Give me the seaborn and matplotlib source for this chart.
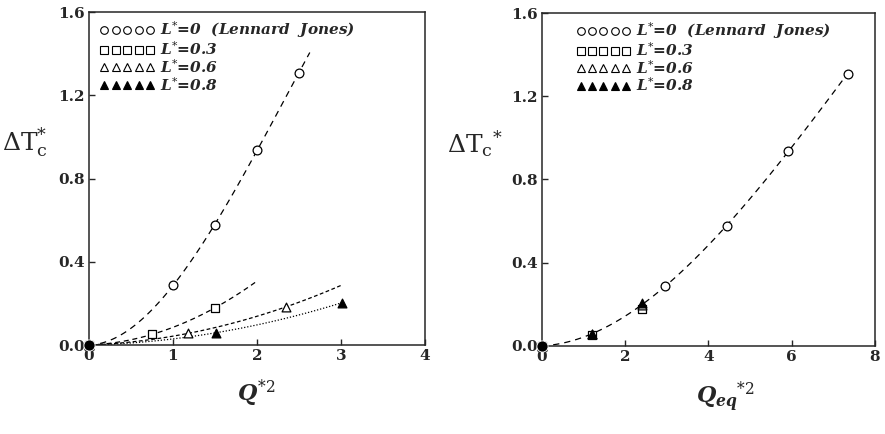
import numpy as np
import pandas as pd
import matplotlib
matplotlib.use("Agg")
import matplotlib.pyplot as plt
from matplotlib.lines import Line2D
import seaborn as sns

# ---- data ----
series_labels = ["L$^{*}$=0  (Lennard  Jones)", "L$^{*}$=0.3", "L$^{*}$=0.6", "L$^{*}$=0.8"]

q2_lj = [0.0, 1.0, 1.5, 2.0, 2.5]
dt_lj = [0.0, 0.288, 0.577, 0.937, 1.308]
q2_l3 = [0.0, 0.75, 1.5]
dt_l3 = [0.0, 0.051, 0.179]
q2_l6 = [0.0, 1.18, 2.35]
dt_l6 = [0.0, 0.056, 0.184]
q2_l8 = [0.0, 1.51, 3.01]
dt_l8 = [0.0, 0.059, 0.203]
fit_end_left = [2.63, 2.0, 3.0, 3.0]
fit_order = [3, 2, 2, 2]

qeq_lj = [0.0, 2.96, 4.44, 5.92, 7.34]
qeq_l3 = [0.0, 1.2, 2.4]
qeq_l6 = [0.0, 1.2, 2.4]
qeq_l8 = [0.0, 1.2, 2.4]
dt_l6_right = [0.0, 0.056, 0.195]
dt_l8_right = [0.0, 0.059, 0.205]
fit_end_right = 7.25

left_x_ticks = [0, 1, 2, 3, 4]
right_x_ticks = [0, 2, 4, 6, 8]
y_ticks = [0.0, 0.4, 0.8, 1.2, 1.6]

# ---- style ----
sns.set_style("ticks")
plt.rcParams["font.family"] = ["DejaVu Serif"]
plt.rcParams["mathtext.fontset"] = "custom"
plt.rcParams["mathtext.rm"] = "DejaVu Serif"
plt.rcParams["mathtext.it"] = "DejaVu Serif:italic:bold"
plt.rcParams["mathtext.bf"] = "DejaVu Serif:bold"

fig = plt.figure(figsize=(8.85, 4.34), dpi=100)
axL = fig.add_axes([0.1006, 0.205, 0.3794, 0.767])
axR = fig.add_axes([0.6124, 0.203, 0.3763, 0.767])

markers = ["o", "s", "^", "^"]
fills = ["white", "white", "white", "black"]
lstyles = [(0, (5, 4)), (0, (4, 3)), (0, (3, 2)), (0, (1, 1.5))]

left_sets = [(q2_lj, dt_lj), (q2_l3, dt_l3), (q2_l6, dt_l6), (q2_l8, dt_l8)]
right_sets = [(qeq_lj, dt_lj), (qeq_l3, dt_l3), (qeq_l6, dt_l6_right), (qeq_l8, dt_l8_right)]


def draw_points(ax, sets):
    for (x, y), m, fc in zip(sets, markers, fills):
        sns.scatterplot(x=x, y=y, marker=m, s=40, facecolor=fc, edgecolor="black",
                        linewidth=0.9, ax=ax, clip_on=False, zorder=3)
    sns.scatterplot(x=[0.0], y=[0.0], marker="o", s=65, color="black", ax=ax,
                    clip_on=False, zorder=4)


for (x, y), ls, xe, od in zip(left_sets, lstyles, fit_end_left, fit_order):
    c = np.polyfit(x, y, od)
    xx = np.linspace(0, xe, 120)
    df = pd.DataFrame({"x": xx, "y": np.polyval(c, xx)})
    sns.lineplot(data=df, x="x", y="y", ax=axL, color="black", lw=0.9,
                 linestyle=ls, estimator=None, sort=False)
draw_points(axL, left_sets)

c = np.polyfit(qeq_lj, dt_lj, 3)
xx = np.linspace(0, fit_end_right, 120)
sns.lineplot(x=xx, y=np.polyval(c, xx), ax=axR, color="black", lw=0.9,
             linestyle=lstyles[0], estimator=None, sort=False)
draw_points(axR, right_sets)

for ax, xt, xlim, lx in [(axL, left_x_ticks, (0, 4), 0.0), (axR, right_x_ticks, (0, 8), 0.07)]:
    ax.set_xlim(*xlim)
    ax.set_ylim(0, 1.6)
    ax.set_xticks(xt)
    ax.set_yticks(y_ticks)
    ax.set_xticklabels([str(t) for t in xt])
    ax.set_yticklabels([f"{t:.1f}" for t in y_ticks])
    ax.tick_params(direction="in", length=4, width=1, labelsize=11, pad=3)
    for lab in ax.get_xticklabels() + ax.get_yticklabels():
        lab.set_fontweight("bold")
    for sp in ax.spines.values():
        sp.set_linewidth(1.1)
        sp.set_visible(True)
    handles = [Line2D([], [], marker=m, linestyle="none", markerfacecolor=fc,
                      markeredgecolor="black", markersize=5.5, markeredgewidth=0.8)
               for m, fc in zip(markers, fills)]
    ax.legend(handles, series_labels, loc="upper left", numpoints=5,
              handlelength=3.6, handletextpad=0.35, labelspacing=-0.02,
              frameon=False, bbox_to_anchor=(lx, 1.01), borderaxespad=0.3,
              prop={"family": "DejaVu Serif", "weight": "bold",
                    "style": "italic", "size": 11})

axL.set_xlabel(r"$Q^{*\mathit{2}}$", fontsize=16, labelpad=10)
axR.set_xlabel(r"$Q_{eq}{}^{*\mathit{2}}$", fontsize=16, labelpad=8)
axL.set_ylabel(r"$\Delta\mathrm{T}^{*}_{\mathrm{c}}$", fontsize=18, rotation=0)
axR.set_ylabel(r"$\Delta\mathrm{T}_{\mathrm{c}}{}^{*}$", fontsize=18, rotation=0)
axL.yaxis.set_label_coords(-0.19, 0.56)
axR.yaxis.set_label_coords(-0.20, 0.56)
axR.xaxis.set_label_coords(0.55, -0.1)

fig.savefig("out.png", dpi=100)
